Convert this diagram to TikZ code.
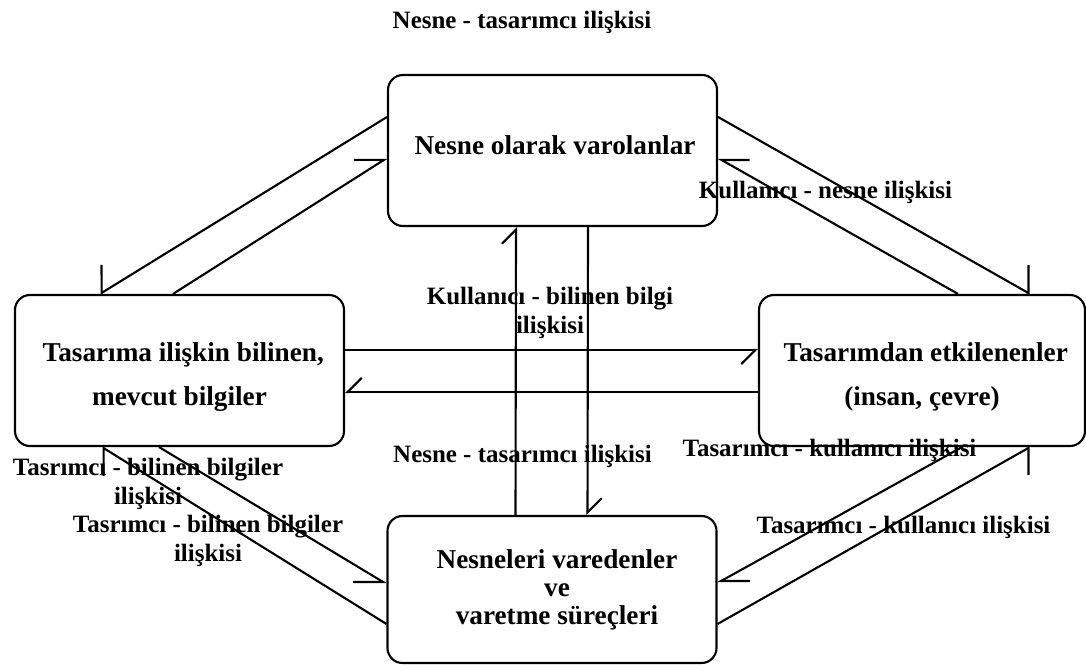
\documentclass[tikz,border=0pt]{standalone}
\usepackage{fontspec}
\setmainfont{Liberation Serif}
\usetikzlibrary{arrows.meta}
\newcommand{\lowtext}[1]{\raisebox{-0.13cm}[\height][\depth]{\parbox{6.2cm}{\centering\hspace*{0.15cm}#1}}}
\tikzset{
  every path/.style={line width=1.2pt},
  box/.style={draw, rounded corners=0.3cm, minimum width=6.58cm,
    minimum height=3.02cm, inner sep=0pt, align=center,
    font=\fontsize{15.5}{25}\selectfont\bfseries},
  rel/.style={align=center, inner sep=0pt,
    font=\fontsize{14.2}{16.5}\selectfont\bfseries},
  lbarb/.style={-{Straight Barb[harpoon, angle=#1]}},
  rbarb/.style={-{Straight Barb[harpoon, swap, angle=#1]}},
}
\begin{document}
\begin{tikzpicture}
      \useasboundingbox (0,0) rectangle (21.72,13.28);

      \node[box]                    (obj)   at (11.05,10.27) {\raisebox{0.2cm}{\hspace*{0.1cm}Nesne olarak varolanlar}};
      \node[box]                    (know)  at (3.59,5.87)   {\lowtext{Tasarıma ilişkin bilinen,\\mevcut bilgiler}};
      \node[box,minimum width=6.52cm] (user) at (18.44,5.87) {\lowtext{Tasarımdan etkilenenler\\(insan, çevre)}};
      \node[box,minimum height=2.94cm,
            font=\fontsize{15.5}{16}\selectfont\bfseries]
                                    (maker) at (11.04,1.49)  {\hspace*{0.2cm}Nesneleri varedenler\\\hspace*{0.2cm}ve\\\hspace*{0.2cm}varetme süreçleri};

      \node[rel] (objmaker)  at (10.44,12.84) {Nesne - tasarımcı ilişkisi};
      \node[rel] (userobj)   at (16.51,9.44)  {Kullanıcı - nesne ilişkisi};
      \node[rel] (userknow)  at (11.00,7.03)  {Kullanıcı - bilinen bilgi\\ilişkisi};
      \node[rel] (objmaker2) at (10.45,4.16)  {Nesne - tasarımcı ilişkisi};
      \node[rel] (makeruser) at (16.59,4.28)  {Tasarımcı - kullanıcı ilişkisi};
      \node[rel] (makeruser2) at (18.07,2.74) {Tasarımcı - kullanıcı ilişkisi};
      \node[rel] (makerknow) at (2.96,3.60)   {Tasrımcı - bilinen bilgiler\\ilişkisi};
      \node[rel] (makerknow2) at (4.16,2.46)  {Tasrımcı - bilinen bilgiler\\ilişkisi};

      \draw ([yshift=0.67cm]obj.west)     edge[rbarb=117:0.56cm] ([xshift=-1.59cm]know.north)
            ([xshift=-0.13cm]know.north)  edge[lbarb=65:0.6cm]   ([yshift=-0.15cm]obj.west)
            ([yshift=0.67cm]obj.east)     edge[lbarb=121:0.56cm] ([xshift=2.16cm]user.north)
            ([xshift=0.72cm]user.north)   edge[rbarb=59:0.56cm]  ([yshift=-0.15cm]obj.east)
            ([yshift=0.41cm]know.east)    edge[rbarb=90:0.4cm]   ([yshift=0.41cm]user.west)
            ([yshift=-0.43cm]user.west)   edge[rbarb=90:0.4cm]   ([yshift=-0.43cm]know.east)
            ([xshift=-0.73cm]maker.north) edge[lbarb=90:0.4cm]   ([xshift=-0.73cm]obj.south)
            ([xshift=0.71cm]obj.south)    edge[lbarb=90:0.4cm]   ([xshift=0.71cm]maker.north)
            ([yshift=-0.69cm]maker.west)  edge[lbarb=116:0.56cm] ([xshift=-1.55cm]know.south)
            ([xshift=-0.41cm]know.south)  edge[rbarb=62:0.6cm]   ([yshift=0.11cm]maker.west)
            ([yshift=-0.69cm]maker.east)  edge[rbarb=121:0.54cm] ([xshift=2.16cm]user.south)
            ([xshift=0.8cm]user.south)    edge[lbarb=58:0.58cm]  ([yshift=0.13cm]maker.east);
\end{tikzpicture}
\end{document}
